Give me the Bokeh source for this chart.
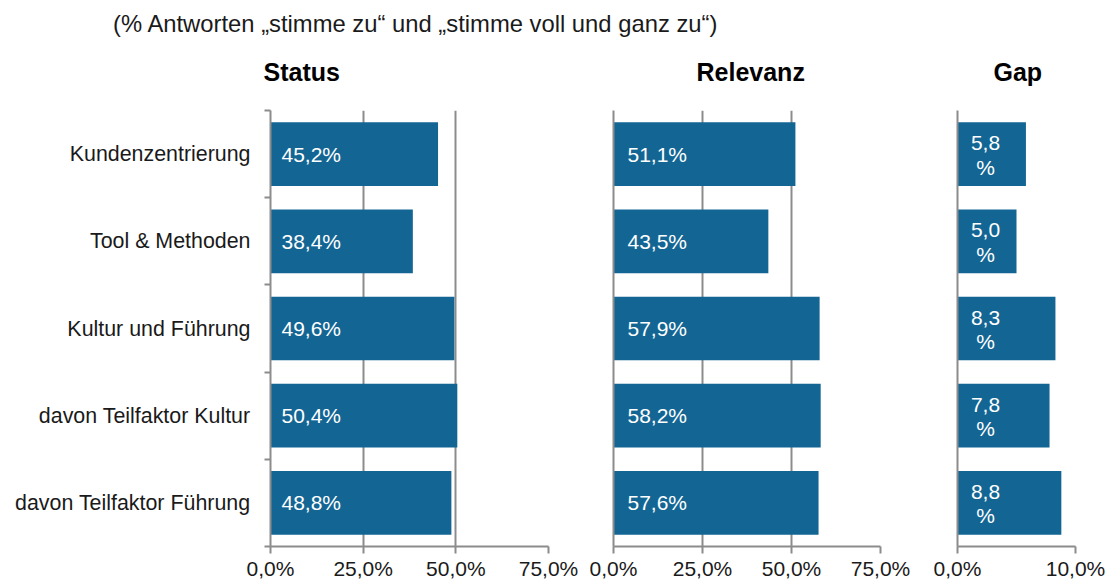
from bokeh.plotting import figure
from bokeh.layouts import row, column
from bokeh.models import Range1d, FixedTicker, Title, ColumnDataSource, Div
from bokeh.embed import file_html
from bokeh.resources import INLINE
from bokeh.core.properties import value

# ---- data ----
categories = ["Kundenzentrierung", "Tool & Methoden", "Kultur und Führung",
              "davon Teilfaktor Kultur", "davon Teilfaktor Führung"]
status = [45.2, 38.4, 49.6, 50.4, 48.8]
relevanz = [51.1, 43.5, 57.9, 58.2, 57.6]
gap = [5.8, 5.0, 8.3, 7.8, 8.8]
status_ticks = [0, 25, 50, 75]
relevanz_ticks = [0, 25, 50, 75]
gap_ticks = [0, 10]
main_title = "(% Antworten „stimme zu“ und „stimme voll und ganz zu“)"
panel_titles = ["Status", "Relevanz", "Gap"]

FONT = "Liberation Sans"
BAR = "#136694"
GRID = "#8c8c8c"
TXT = "#1a1a1a"
HEAD = 34
H = 582 - HEAD


def fmt(v):
    return f"{v:.1f}".replace(".", ",")


pos = [i + 0.5 for i in range(len(categories))]


def make_panel(values, ticks, title, width, left, right, first=False, two_line=False,
               lab_off=11, title_offset=0):
    p = figure(width=width, height=H,
               x_range=Range1d(ticks[0], ticks[-1]),
               y_range=Range1d(len(categories), 0),
               output_backend="svg", toolbar_location=None, title=None,
               min_border_left=left, min_border_right=right,
               min_border_top=110 - HEAD, min_border_bottom=34)
    p.outline_line_color = None
    p.border_fill_color = None
    p.background_fill_color = None

    src = ColumnDataSource(dict(
        y=pos, v=values, zero=[0] * len(values),
        lab=[fmt(v) + "%" for v in values],
        lab1=[fmt(v) for v in values],
        lab2=["%"] * len(values),
    ))
    p.hbar(y="y", left="zero", right="v", height=0.73, fill_color=BAR,
           line_color=None, source=src)
    if two_line:
        p.text(x="zero", y="y", text="lab1", source=src, x_offset=28, y_offset=-11,
               text_align="center", text_baseline="middle", text_color="white",
               text_font=value(FONT), text_font_size="21px")
        p.text(x="zero", y="y", text="lab2", source=src, x_offset=28, y_offset=13,
               text_align="center", text_baseline="middle", text_color="white",
               text_font=value(FONT), text_font_size="21px")
    else:
        p.text(x="zero", y="y", text="lab", source=src, x_offset=lab_off,
               text_align="left", text_baseline="middle", text_color="white",
               text_font=value(FONT), text_font_size="21px")

    # grid
    p.ygrid.visible = False
    p.xgrid.ticker = FixedTicker(ticks=ticks[1:])
    p.xgrid.grid_line_color = GRID
    p.xgrid.grid_line_width = 2

    # x axis
    xa = p.xaxis[0]
    xa.ticker = FixedTicker(ticks=ticks)
    xa.major_label_overrides = {t: fmt(t) + "%" for t in ticks}
    xa.axis_line_color = GRID
    xa.axis_line_width = 2
    xa.major_tick_line_color = GRID
    xa.major_tick_line_width = 2
    xa.major_tick_out = 7
    xa.major_tick_in = 0
    xa.minor_tick_line_color = None
    xa.major_label_standoff = 3
    xa.major_label_text_font = FONT
    xa.major_label_text_font_size = "21px"
    xa.major_label_text_color = TXT

    # y axis
    ya = p.yaxis[0]
    ya.axis_line_color = GRID
    ya.axis_line_width = 2
    ya.major_tick_out = 0
    ya.major_tick_in = 0
    ya.minor_tick_in = 0
    if first:
        ya.ticker = FixedTicker(ticks=pos, minor_ticks=list(range(len(categories) + 1)))
        ya.major_label_overrides = dict(zip(pos, categories))
        ya.minor_tick_out = 6
        ya.minor_tick_line_color = GRID
        ya.minor_tick_line_width = 2
        ya.major_label_standoff = 14
        ya.major_label_text_font = FONT
        ya.major_label_text_font_size = "21.4px"
        ya.major_label_text_color = TXT
    else:
        ya.ticker = FixedTicker(ticks=[])
        ya.minor_tick_line_color = None
        ya.major_label_text_font_size = "0px"

    p.add_layout(Title(text=title, align="left", offset=title_offset, vertical_align="top",
                       text_font=FONT, text_font_size="25px", text_font_style="bold",
                       text_color="black", standoff=46), "above")
    return p


header = Div(text=main_title, width=1114, height=HEAD, margin=(0, 0, 0, 0),
             styles={"font-family": "'Liberation Sans'", "font-size": "23.8px",
                     "color": TXT, "padding-left": "113px", "padding-top": "13px",
                     "line-height": "22px", "box-sizing": "border-box",
                     "overflow": "visible", "white-space": "nowrap"})

p1 = make_panel(status, status_ticks, panel_titles[0], 580, 270, 32, first=True,
                lab_off=11, title_offset=-7)
p2 = make_panel(relevanz, relevanz_ticks, panel_titles[1], 340, 33, 40,
                lab_off=14, title_offset=83)
p3 = make_panel(gap, gap_ticks, panel_titles[2], 194, 37, 39, two_line=True,
                title_offset=36)

layout = column(header, row(p1, p2, p3))
open("out.html", "w").write(file_html(layout, INLINE))
